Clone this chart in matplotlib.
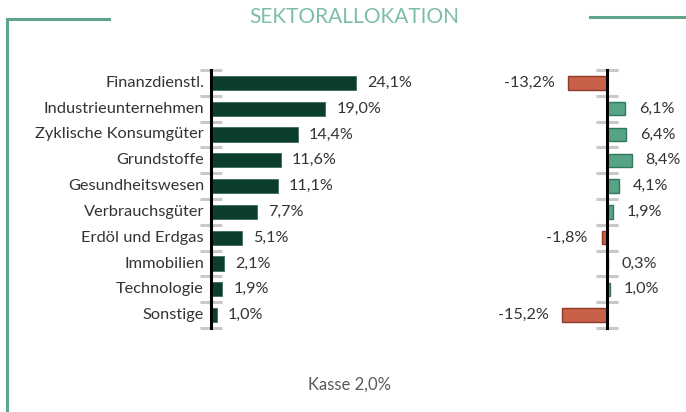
import matplotlib.pyplot as plt
import numpy as np

plt.rcParams['font.family'] = ['Lato', 'DejaVu Sans']

sectors = ['Finanzdienstl.', 'Industrieunternehmen', 'Zyklische Konsumgüter',
           'Grundstoffe', 'Gesundheitswesen', 'Verbrauchsgüter',
           'Erdöl und Erdgas', 'Immobilien', 'Technologie', 'Sonstige']
weights = [24.1, 19.0, 14.4, 11.6, 11.1, 7.7, 5.1, 2.1, 1.9, 1.0]
relative = [-13.2, 6.1, 6.4, 8.4, 4.1, 1.9, -1.8, 0.3, 1.0, -15.2]
cash_label = 'Kasse 2,0%'
title = 'SEKTORALLOKATION'

W, H = 686, 412
DARK = '#0b3d2e'
POS, POS_EDGE = '#56a385', '#2f7a5e'
NEG, NEG_EDGE = '#c9604a', '#8e3b2a'
FRAME = '#5fa58a'
TICK = '#c9c9c9'
TXT = '#333333'


def fmt(v):
    return f'{v:.1f}%'.replace('.', ',')


def px_axes(fig, left, top, right, bottom):
    return fig.add_axes([left / W, 1 - bottom / H, (right - left) / W, (bottom - top) / H])


def style(ax):
    for s in ax.spines.values():
        s.set_visible(False)
    # the zero line carries the ticks
    ax.spines['left'].set_visible(True)
    ax.spines['left'].set_position(('data', 0))
    ax.spines['left'].set_color('black')
    ax.spines['left'].set_linewidth(2.2)
    ax.spines['left'].set_zorder(3)
    n = len(sectors)
    ax.set_ylim(n - 0.5, -0.5)
    ax.set_yticks(np.arange(n + 1) - 0.5)
    ax.set_yticklabels([])
    ax.tick_params(axis='y', which='major', direction='inout', length=16,
                   width=2.2, color=TICK)
    ax.set_xticks([])
    ax.patch.set_alpha(0)


fig = plt.figure(figsize=(W / 100, H / 100), dpi=100)
y = np.arange(len(sectors))

# left: absolute weights
ax1 = px_axes(fig, 211, 70, 211 + 6.02 * 30, 328)
ax1.barh(y, weights, height=0.55, color=DARK, edgecolor='#3d6b5c', lw=0.6, zorder=2)
ax1.set_xlim(0, 30)
style(ax1)
for yi, name in zip(y, sectors):
    ax1.annotate(name, (0, yi), xytext=(-5, 0), textcoords='offset points',
                 ha='right', va='center', fontsize=11.8, color=TXT)
for yi, v in zip(y, weights):
    ax1.annotate(fmt(v), (v, yi), xytext=(8, 0), textcoords='offset points',
                 ha='left', va='center', fontsize=11.6, color=TXT)

# right: relative to benchmark
ax2 = px_axes(fig, 607 - 2.93 * 20, 70, 607 + 2.93 * 10, 328)
cols = [POS if v >= 0 else NEG for v in relative]
edges = [POS_EDGE if v >= 0 else NEG_EDGE for v in relative]
ax2.barh(y, relative, height=0.52, color=cols, edgecolor=edges, lw=1, zorder=2)
ax2.set_xlim(-20, 10)
style(ax2)
for yi, v in zip(y, relative):
    off = 10 if v >= 0 else -10
    ax2.annotate(fmt(v), (v, yi), xytext=(off, 0), textcoords='offset points',
                 ha='left' if v >= 0 else 'right', va='center', fontsize=11.6, color=TXT)

# frame and texts
fig.add_artist(plt.Line2D([7 / W, 109 / W], [1 - 19 / H, 1 - 19 / H], color=FRAME, lw=2.2))
fig.add_artist(plt.Line2D([7 / W, 7 / W], [1 - 19 / H, 0], color=FRAME, lw=2.2))
fig.add_artist(plt.Line2D([590 / W, 1], [1 - 17 / H, 1 - 17 / H], color=FRAME, lw=2.2))
fig.text(354 / W, 1 - 17 / H, title, ha='center', va='center', fontsize=15,
         color='#7cbfa5', fontweight='normal')
fig.text(349 / W, 1 - 385 / H, cash_label, ha='center', va='center', fontsize=12,
         color='#5a5a5a', fontweight='normal')

fig.savefig('out.png', dpi=100)
